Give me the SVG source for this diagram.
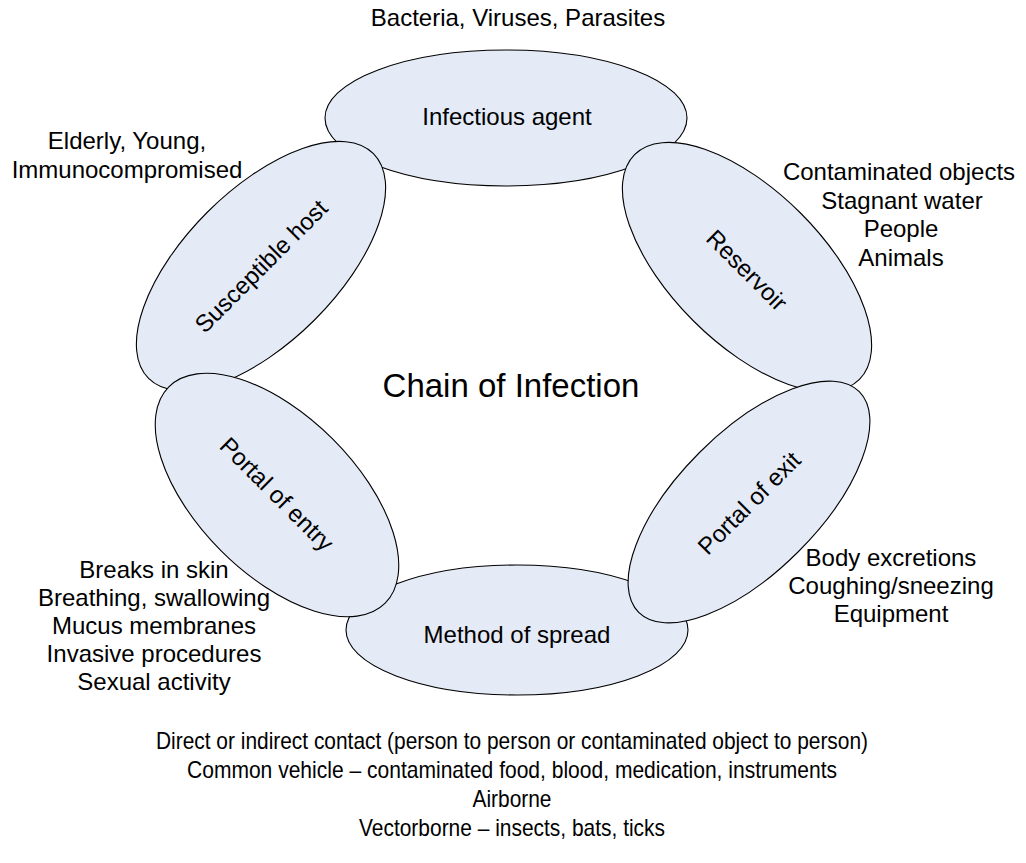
<svg xmlns="http://www.w3.org/2000/svg" width="1026" height="863" viewBox="0 0 1026 863">
<style>
.n{fill:#e4eaf6;stroke:#000;stroke-width:1.1}
text{font-family:"Liberation Sans",Arial,sans-serif;fill:#000}
.l{font-size:24px;text-anchor:middle;dominant-baseline:central}
.a{font-size:24px;text-anchor:middle}
</style>
<rect width="1026" height="863" fill="#fff"/>
<g id="connectors"/>
<g id="infectious-agent">
<ellipse class="n" cx="506" cy="118" rx="181" ry="68"/>
<text class="l" x="507" y="116">Infectious agent</text>
</g>
<g id="method-of-spread">
<ellipse class="n" cx="517" cy="630" rx="171" ry="65"/>
<text class="l" x="517" y="634">Method of spread</text>
</g>
<g id="susceptible-host">
<ellipse class="n" cx="261" cy="266" rx="159" ry="76" transform="rotate(-45 261 266)"/>
<text class="l" x="261" y="266" transform="rotate(-45 261 266)">Susceptible host</text>
</g>
<g id="reservoir">
<ellipse class="n" cx="747" cy="267" rx="159" ry="76" transform="rotate(45 747 267)"/>
<text class="l" x="747" y="270" transform="rotate(45 747 270)">Reservoir</text>
</g>
<g id="portal-of-entry">
<ellipse class="n" cx="277" cy="495" rx="153" ry="79" transform="rotate(45 277 495)"/>
<text class="l" x="277" y="494" transform="rotate(45 277 494)">Portal of entry</text>
</g>
<g id="portal-of-exit">
<ellipse class="n" cx="749" cy="502" rx="156" ry="70" transform="rotate(-45 749 502)"/>
<text class="l" x="749" y="503" transform="rotate(-45 749 503)">Portal of exit</text>
</g>
<g id="title">
<text x="511" y="397" font-size="33" text-anchor="middle">Chain of Infection</text>
</g>
<g id="agent-notes">
<text class="a" x="518" y="26">Bacteria, Viruses, Parasites</text>
</g>
<g id="host-notes">
<text class="a" x="127" y="149">Elderly, Young,</text>
<text class="a" x="127" y="178">Immunocompromised</text>
</g>
<g id="reservoir-notes">
<text class="a" x="899" y="180">Contaminated objects</text>
<text class="a" x="902" y="209">Stagnant water</text>
<text class="a" x="901" y="237">People</text>
<text class="a" x="901" y="266">Animals</text>
</g>
<g id="exit-notes">
<text class="a" x="891" y="566">Body excretions</text>
<text class="a" x="891" y="594">Coughing/sneezing</text>
<text class="a" x="891" y="622">Equipment</text>
</g>
<g id="entry-notes">
<text class="a" x="154" y="578">Breaks in skin</text>
<text class="a" x="154" y="606">Breathing, swallowing</text>
<text class="a" x="154" y="634">Mucus membranes</text>
<text class="a" x="154" y="662">Invasive procedures</text>
<text class="a" x="154" y="690">Sexual activity</text>
</g>
<g id="spread-notes">
<text class="a" x="512" y="749" textLength="712" lengthAdjust="spacingAndGlyphs">Direct or indirect contact (person to person or contaminated object to person)</text>
<text class="a" x="512" y="778" textLength="650" lengthAdjust="spacingAndGlyphs">Common vehicle – contaminated food, blood, medication, instruments</text>
<text class="a" x="512" y="807" textLength="79" lengthAdjust="spacingAndGlyphs">Airborne</text>
<text class="a" x="512" y="836" textLength="306" lengthAdjust="spacingAndGlyphs">Vectorborne – insects, bats, ticks</text>
</g>
</svg>
